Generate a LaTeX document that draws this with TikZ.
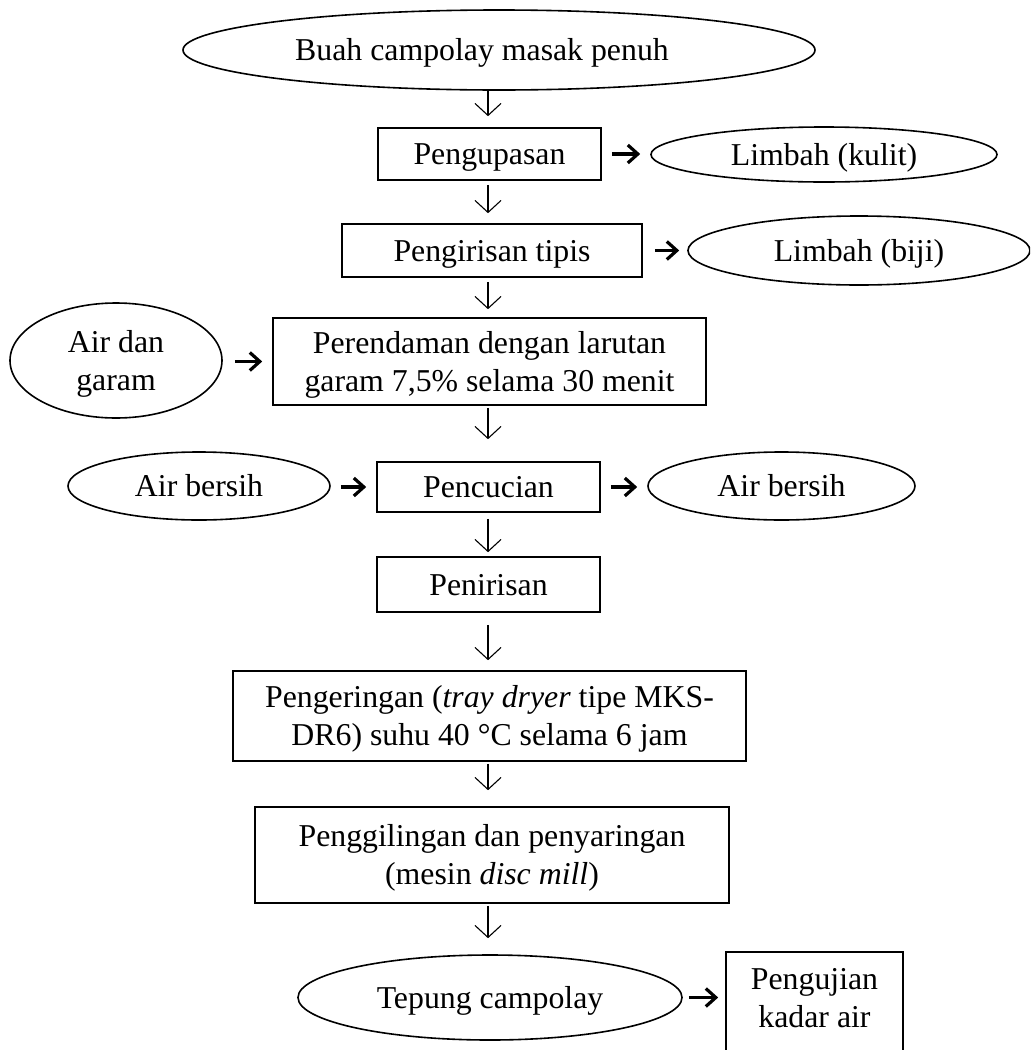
\documentclass[tikz,border=0pt]{standalone}
\usepackage{fontspec}
\setmainfont{Liberation Serif}
\usetikzlibrary{shapes.geometric,arrows.meta}
\newcommand\lnst{\rule[-3.43pt]{0pt}{17.6pt}}
\begin{document}
\begin{tikzpicture}[x=0.5pt,y=-0.5pt,
  txt/.style={font=\fontsize{15.9}{19}\selectfont, align=center, inner sep=0pt},
  pbox/.style={txt, draw, line width=0.8pt, rectangle},
  oval/.style={txt, draw, line width=0.8pt, ellipse},
  varr/.style={-{Straight Barb[length=6pt,width=13pt,line width=0.55pt]}, line width=0.55pt},
  harr/.style={-{Straight Barb[length=5pt,width=9pt,line width=1.6pt]}, line width=1.6pt}]
\useasboundingbox (0,0) rectangle (1030,1050);
\clip (0,0) rectangle (1030,1050);
\fill[white] (0,0) rectangle (1030,1050);
\coordinate (col) at (488,0);
% main column
\node[oval, minimum width=316pt, minimum height=40pt] (buah) at (499,50) {};
\node[txt] (buaht) at (482,50) {\lnst Buah campolay masak penuh};
\node[pbox, minimum width=111.5pt, minimum height=26pt] (kupas) at (489.5,154) {\lnst Pengupasan};
\node[oval, minimum width=173pt, minimum height=27.5pt] (kulit) at (824,154.5) {\lnst Limbah (kulit)};
\node[pbox, minimum width=150pt, minimum height=26.5pt] (iris) at (492,250.5) {\lnst Pengirisan tipis};
\node[oval, minimum width=171pt, minimum height=34.5pt] (biji) at (859,250.5) {\lnst Limbah (biji)};
\node[pbox, minimum width=216.5pt, minimum height=43.5pt] (rendam) at (489.5,361.5) {\lnst Perendaman dengan larutan\\\lnst garam 7,5\% selama 30 menit};
\node[oval, minimum width=106pt, minimum height=57.5pt] (garam) at (116,360.5) {\lnst Air dan\\\lnst garam};
\node[pbox, minimum width=111.5pt, minimum height=25pt] (cuci) at (488.5,487) {\lnst Pencucian};
\node[oval, minimum width=131pt, minimum height=34pt] (airL) at (199,486) {\lnst Air bersih};
\node[oval, minimum width=133.5pt, minimum height=34pt] (airR) at (781.5,486) {\lnst Air bersih};
\node[pbox, minimum width=111.5pt, minimum height=27.5pt] (tiris) at (488.5,584.5) {\lnst Penirisan};
\node[pbox, minimum width=256.5pt, minimum height=45pt] (kering) at (489.5,716) {\lnst Pengeringan (\textit{tray dryer} tipe MKS-\\\lnst DR6) suhu 40 °C selama 6 jam};
\node[pbox, minimum width=237pt, minimum height=48pt] (giling) at (492,855) {\lnst Penggilingan dan penyaringan\\\lnst (mesin \textit{disc mill})};
\node[oval, minimum width=192pt, minimum height=42.5pt] (tepung) at (490,997.5) {\lnst Tepung campolay};
\node[draw, line width=0.8pt, rectangle, inner sep=0pt, minimum width=88.5pt, minimum height=50pt] (uji) at (814.5,1002) {};
\node[txt] (ujit) at (814.5,998) {\lnst Pengujian\\\lnst kadar air};
% vertical arrows
\draw[varr, shorten >=5.5pt] (buah.south -| col) -- (kupas.north -| col);
\draw[varr, shorten >=5pt, shorten <=2pt] (kupas.south -| col) -- (iris.north -| col);
\draw[varr, shorten >=4pt, shorten <=2pt] (iris.south -| col) -- (rendam.north -| col);
\draw[varr, shorten >=11pt, shorten <=1pt] (rendam.south -| col) -- (cuci.north -| col);
\draw[varr, shorten >=2pt, shorten <=3pt] (cuci.south -| col) -- (tiris.north -| col);
\draw[varr, shorten >=5pt, shorten <=6pt] (tiris.south -| col) -- (kering.north -| col);
\draw[varr, shorten >=8pt, shorten <=1pt] (kering.south -| col) -- (giling.north -| col);
\draw[varr, shorten >=8pt, shorten <=1pt] (giling.south -| col) -- (tepung.north -| col);
% horizontal arrows
\draw[harr, shorten <=5pt, shorten >=5pt] (kupas.east) -- (kupas.east -| kulit.west);
\draw[harr, shorten <=6pt, shorten >=4pt] (iris.east) -- (iris.east -| biji.west);
\draw[harr, shorten <=6pt, shorten >=5pt] (garam.east |- rendam.center) -- (rendam.west);
\draw[harr, shorten <=5pt, shorten >=5pt] (airL.east |- cuci.center) -- (cuci.west);
\draw[harr, shorten <=5pt, shorten >=5pt] (cuci.east) -- (cuci.east -| airR.west);
\draw[harr, shorten <=3pt, shorten >=3.5pt] (tepung.east) -- (tepung.east -| uji.west);
\end{tikzpicture}
\end{document}
